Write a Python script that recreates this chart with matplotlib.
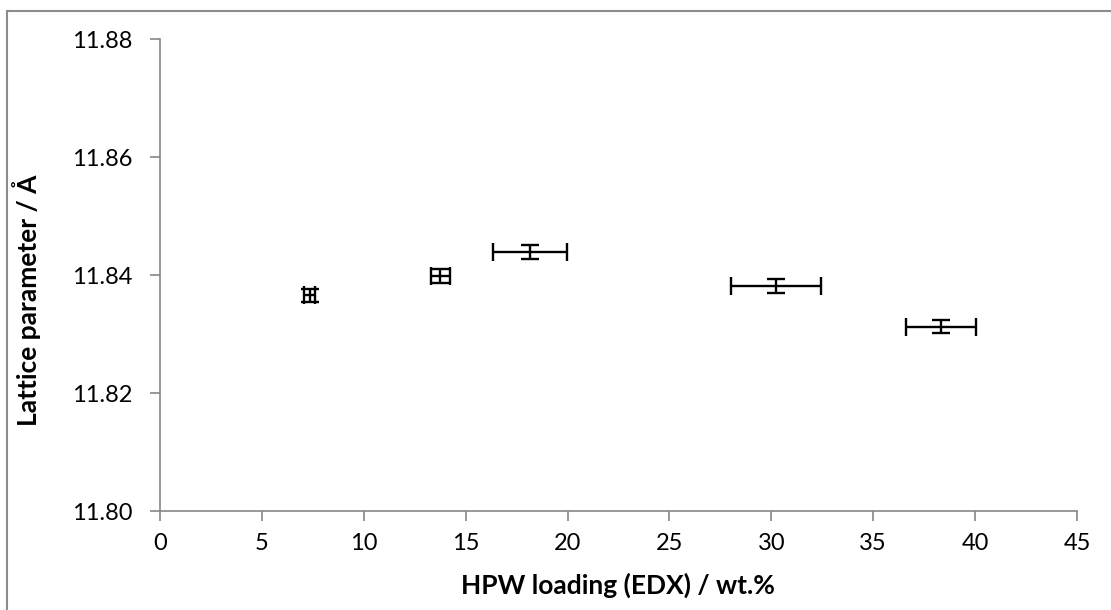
import matplotlib
matplotlib.use("Agg")
import matplotlib.pyplot as plt
from matplotlib.patches import Rectangle

# Data
hpw_loading = [7.35, 13.75, 18.14, 30.23, 38.32]
hpw_err = [0.27, 0.47, 1.82, 2.19, 1.73]
lattice = [11.8366, 11.8399, 11.8439, 11.8381, 11.8312]
lattice_err = [0.0011, 0.0012, 0.0012, 0.0012, 0.0011]
xticks = [0, 5, 10, 15, 20, 25, 30, 35, 40, 45]
yticks = [11.80, 11.82, 11.84, 11.86, 11.88]

plt.rcParams['font.family'] = ['Lato', 'DejaVu Sans']

fig = plt.figure(figsize=(11.11, 6.10), dpi=100)
fig.patches.append(Rectangle((7/1111, -0.1), 1.2, 1 - 11/610 + 0.1,
                             transform=fig.transFigure, fill=False,
                             edgecolor='#8c8c8c', linewidth=1.5))
ax = fig.add_axes([160/1111, 1 - 511/610, (1077 - 160)/1111, (511 - 39)/610])

ax.errorbar(hpw_loading, lattice, xerr=hpw_err, yerr=lattice_err,
            fmt='none', ecolor='black', elinewidth=1.7, capsize=6.5,
            capthick=1.7)

ax.set_xlim(0, 45)
ax.set_ylim(11.80, 11.88)
ax.set_xticks(xticks)
ax.set_yticks(yticks)
ax.set_xticklabels([str(t) for t in xticks])
ax.set_yticklabels([f"{t:.2f}" for t in yticks])

for s in ['top', 'right']:
    ax.spines[s].set_visible(False)
for s in ['left', 'bottom']:
    ax.spines[s].set_color('#868686')
    ax.spines[s].set_linewidth(1.2)

ax.tick_params(axis='both', direction='out', color='#868686', width=1.2,
               length=7, labelsize=17, colors='#868686', labelcolor='black',
               pad=9)
ax.tick_params(axis='y', length=7, pad=13)

ax.set_xlabel('HPW loading (EDX) / wt.%', fontsize=19, fontweight='bold')
ax.set_ylabel('Lattice parameter / Å', fontsize=19, fontweight='bold')
ax.xaxis.set_label_coords(0.499, (511 - 585) / 472, transform=ax.transAxes)
ax.yaxis.set_label_coords((27 - 160) / 917, (511 - 300) / 472,
                          transform=ax.transAxes)
ax.xaxis.label.set_va('center')
ax.yaxis.label.set_va('center')

fig.savefig('out.png', dpi=100)
